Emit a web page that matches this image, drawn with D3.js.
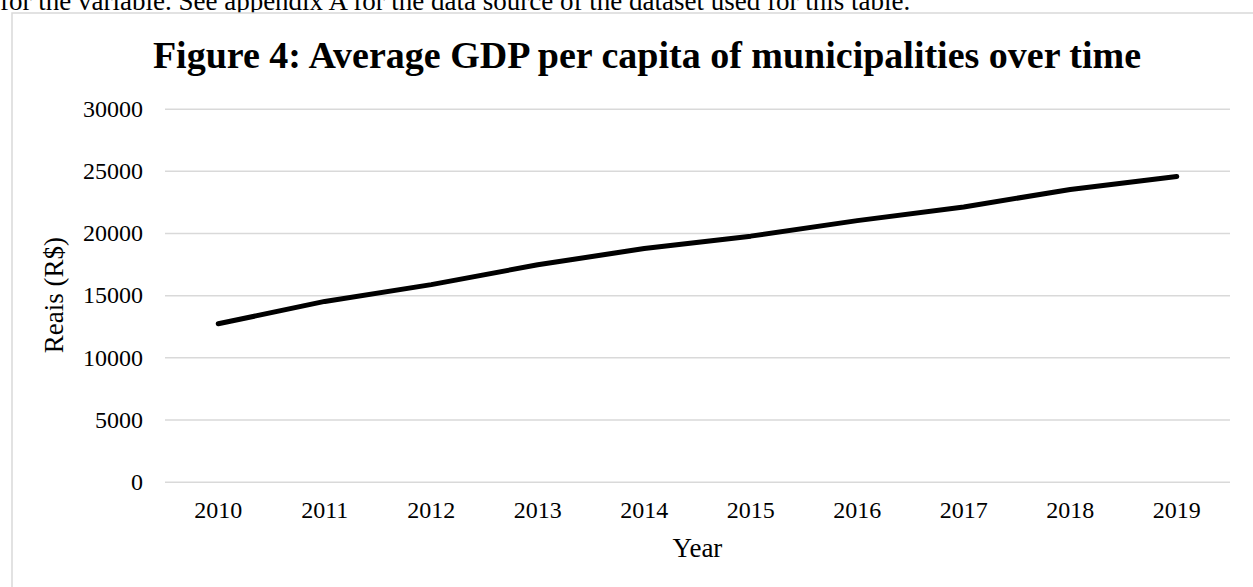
<!DOCTYPE html>
<html>
<head>
<meta charset="utf-8">
<script src="https://cdn.jsdelivr.net/npm/d3@7"></script>
<style>
  html, body { margin: 0; padding: 0; background: #fff; }
  svg { display: block; }
</style>
</head>
<body>
<svg id="chart" width="1253" height="587"></svg>
<script>
// Average GDP per capita (R$) of municipalities, by year
const years = ["2010", "2011", "2012", "2013", "2014", "2015", "2016", "2017", "2018", "2019"];
const gdpPerCapita = [12700, 14500, 15850, 17450, 18750, 19750, 21000, 22100, 23500, 24550];
const yTicks = [0, 5000, 10000, 15000, 20000, 25000, 30000];

const titleText = "Figure 4: Average GDP per capita of municipalities over time";
const yLabel = "Reais (R$)";
const xLabel = "Year";
const captionText = "for the variable. See appendix A for the data source of the dataset used for this table.";

const svg = d3.select("#chart");
const serif = "'Liberation Serif', 'Times New Roman', serif";

const plot = { left: 165, right: 1230, top: 108.7, bottom: 481.7 };

// paragraph text above the figure, running off the top edge
svg.append("text")
  .attr("x", 0).attr("y", 10)
  .attr("font-family", serif).attr("font-size", 27)
  .attr("fill", "#000")
  .text(captionText);

// figure frame
svg.append("rect")
  .attr("x", 12).attr("y", 13)
  .attr("width", 1260).attr("height", 600)
  .attr("fill", "#fff")
  .attr("stroke", "#d9d9d9").attr("stroke-width", 1.5);

const x = d3.scaleBand().domain(years).range([plot.left, plot.right]).padding(0);
const y = d3.scaleLinear().domain([0, 30000]).range([plot.bottom, plot.top]);

// horizontal gridlines + y tick labels
const yAxis = d3.axisLeft(y).tickValues(yTicks).tickSize(-(plot.right - plot.left)).tickPadding(22).tickFormat(d3.format("d"));
const gy = svg.append("g").attr("transform", `translate(${plot.left},0)`).call(yAxis);
gy.select(".domain").remove();
gy.selectAll(".tick line").attr("stroke", "#d9d9d9").attr("stroke-width", 1.5);
gy.selectAll(".tick text").attr("font-family", serif).attr("font-size", 24).attr("fill", "#000");

// x tick labels
const xAxis = d3.axisBottom(x).tickSize(0).tickPadding(19);
const gx = svg.append("g").attr("transform", `translate(0,${plot.bottom})`).call(xAxis);
gx.select(".domain").remove();
gx.selectAll(".tick text").attr("font-family", serif).attr("font-size", 24).attr("fill", "#000");

// data line
const line = d3.line()
  .x((d, i) => x(years[i]) + x.bandwidth() / 2)
  .y(d => y(d));

svg.append("path")
  .datum(gdpPerCapita)
  .attr("d", line)
  .attr("fill", "none")
  .attr("stroke", "#000")
  .attr("stroke-width", 5)
  .attr("stroke-linecap", "round")
  .attr("stroke-linejoin", "round");

// title
svg.append("text")
  .attr("x", 647).attr("y", 68)
  .attr("text-anchor", "middle")
  .attr("font-family", serif).attr("font-size", 38).attr("font-weight", "bold")
  .attr("fill", "#000")
  .text(titleText);

// axis titles
svg.append("text")
  .attr("transform", `translate(63,${(plot.top + plot.bottom) / 2}) rotate(-90)`)
  .attr("text-anchor", "middle")
  .attr("font-family", serif).attr("font-size", 27)
  .attr("fill", "#000")
  .text(yLabel);

svg.append("text")
  .attr("x", (plot.left + plot.right) / 2).attr("y", 557)
  .attr("text-anchor", "middle")
  .attr("font-family", serif).attr("font-size", 27)
  .attr("fill", "#000")
  .text(xLabel);
</script>
</body>
</html>
